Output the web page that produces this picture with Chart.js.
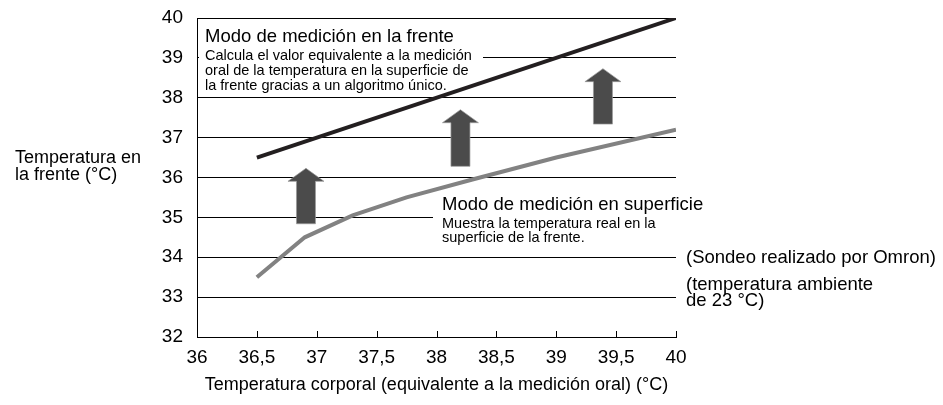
<!DOCTYPE html>
<html><head><meta charset="utf-8">
<script src="https://cdn.jsdelivr.net/npm/chart.js@4.4.0/dist/chart.umd.min.js"></script>
<style>html,body{margin:0;padding:0;background:#fff;}#wrap{width:943px;height:405px;}</style>
</head><body><div id="wrap"><canvas id="c" width="943" height="405"></canvas></div>
<script>
const xTickLabels = ['36','36,5','37','37,5','38','38,5','39','39,5','40'];
const yTickLabels = ['32','33','34','35','36','37','38','39','40'];
const frenteX = [36.5, 40];
const frenteY = [36.5, 40];
const superficieX = [36.5, 36.9, 37.3, 37.75, 38.3, 39, 40];
const superficieY = [33.5, 34.5, 35.05, 35.5, 35.95, 36.5, 37.2];
const arrowX = [36.91, 38.2, 39.39];
const arrowFrom = [34.84, 36.28, 37.34];
const arrowTo = [36.23, 37.7, 38.73];

const FONT = "'Liberation Sans', Arial, sans-serif";

const annot = {
  id: 'annot',
  beforeDatasetsDraw(chart) {
    const ctx = chart.ctx;
    ctx.save();
    ctx.fillStyle = '#fff';
    ctx.fillRect(199, 21, 284, 74);
    ctx.fillRect(433, 189, 250, 60);
    ctx.restore();
  },
  afterDatasetsDraw(chart) {
    const {ctx, scales: {x, y}} = chart;
    ctx.save();
    ctx.strokeStyle = '#000'; ctx.lineWidth = 1;
    x.ticks.forEach(t => {
      const px = Math.round(x.getPixelForValue(t.value)) + 0.5;
      ctx.beginPath(); ctx.moveTo(px, y.bottom); ctx.lineTo(px, y.bottom - 6); ctx.stroke();
    });
    arrowX.forEach((v, i) => {
      const cx = x.getPixelForValue(v), yb = y.getPixelForValue(arrowFrom[i]), yt = y.getPixelForValue(arrowTo[i]);
      const hw = 18, sw = 9.5, hl = 13;
      ctx.beginPath();
      ctx.moveTo(cx, yt); ctx.lineTo(cx + hw, yt + hl); ctx.lineTo(cx + sw, yt + hl);
      ctx.lineTo(cx + sw, yb); ctx.lineTo(cx - sw, yb); ctx.lineTo(cx - sw, yt + hl);
      ctx.lineTo(cx - hw, yt + hl); ctx.closePath();
      ctx.fillStyle = '#4b4b4b'; ctx.fill();
      ctx.strokeStyle = '#999'; ctx.lineWidth = 0.7; ctx.stroke();
    });
    ctx.fillStyle = '#000'; ctx.textBaseline = 'alphabetic'; ctx.textAlign = 'left';
    ctx.font = '18.5px ' + FONT;
    ctx.fillText('Modo de medición en la frente', 205, 42);
    ctx.fillText('Modo de medición en superficie', 442, 210);
    ctx.font = '14.5px ' + FONT;
    ctx.fillText('Calcula el valor equivalente a la medición', 205, 60);
    ctx.fillText('oral de la temperatura en la superficie de', 205, 75);
    ctx.fillText('la frente gracias a un algoritmo único.', 205, 90);
    ctx.fillText('Muestra la temperatura real en la', 442, 228);
    ctx.fillText('superficie de la frente.', 442, 242);
    ctx.font = '18.5px ' + FONT;
    ctx.fillText('(Sondeo realizado por Omron)', 686, 263);
    ctx.fillText('(temperatura ambiente', 686, 290);
    ctx.fillText('de 23 °C)', 686, 306);
    ctx.font = '18px ' + FONT;
    ctx.fillText('Temperatura en', 15, 163);
    ctx.fillText('la frente (°C)', 15, 180);
    ctx.restore();
  }
};

new Chart(document.getElementById('c'), {
  type: 'line',
  data: {
    datasets: [
      {
        label: 'Modo de medición en la frente',
        data: frenteX.map((v, i) => ({x: v, y: frenteY[i]})),
        borderColor: '#231f20', borderWidth: 4, pointRadius: 0, fill: false, tension: 0
      },
      {
        label: 'Modo de medición en superficie',
        data: superficieX.map((v, i) => ({x: v, y: superficieY[i]})),
        borderColor: '#828282', borderWidth: 4, pointRadius: 0, fill: false, tension: 0
      }
    ]
  },
  options: {
    responsive: false, animation: false, devicePixelRatio: 1,
    layout: {padding: {top: 18, right: 267, bottom: 0, left: 0}},
    plugins: {legend: {display: false}, tooltip: {enabled: false}},
    scales: {
      x: {
        type: 'linear', min: 36, max: 40,
        ticks: {stepSize: 0.5, autoSkip: false, maxRotation: 0, padding: 9, color: '#000',
          font: {family: FONT, size: 19}, callback: (v, i) => xTickLabels[i]},
        grid: {display: false, drawTicks: false},
        border: {display: true, color: '#000', width: 1},
        title: {display: true, text: 'Temperatura corporal (equivalente a la medición oral) (°C)',
          color: '#000', font: {family: FONT, size: 18}, padding: {top: 0, bottom: 9}},
        afterFit: s => { s.height = 68; s.paddingLeft = 0; s.paddingRight = 0; }
      },
      y: {
        type: 'linear', min: 32, max: 40,
        ticks: {stepSize: 1, padding: 14, color: '#000', font: {family: FONT, size: 19},
          callback: (v, i) => yTickLabels[i]},
        grid: {color: '#000', lineWidth: 1, drawTicks: false},
        border: {display: true, color: '#000', width: 1},
        afterFit: s => { s.width = 197; s.paddingTop = 0; s.paddingBottom = 0; }
      }
    }
  },
  plugins: [annot]
});
</script></body></html>
